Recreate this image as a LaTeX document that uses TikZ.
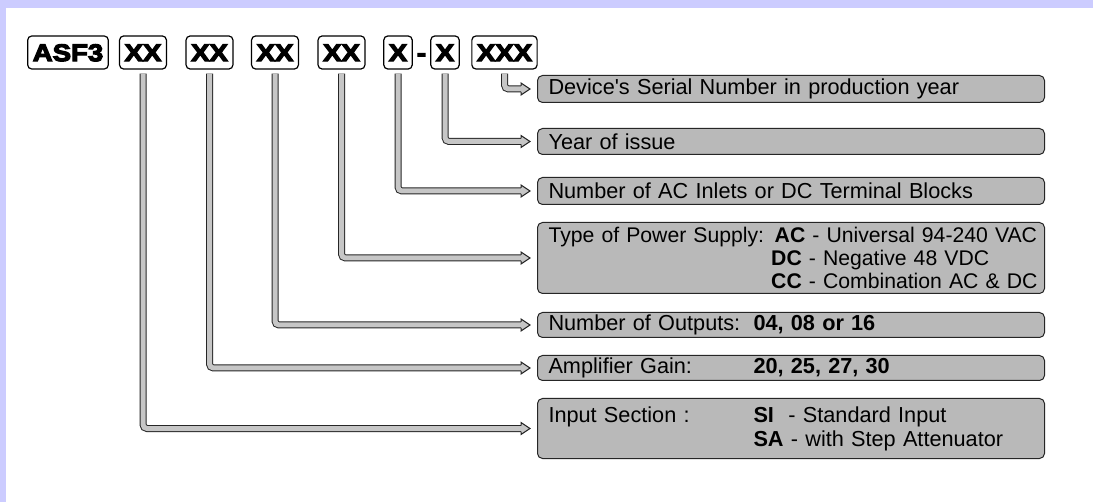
\documentclass[tikz,border=0pt]{standalone}
\usepackage{fontspec}
\setmainfont{Liberation Sans}
\newfontfamily\codefont{Liberation Sans Bold}[FakeBold=5,FakeStretch=1.15]
\usetikzlibrary{calc}
\definecolor{lavender}{RGB}{204,204,255}
\tikzset{
	code/.style={draw=black, line width=0.6pt, rounded corners=2pt, fill=white,
			font=\codefont\fontsize{12}{12}\selectfont, inner xsep=2.5pt, inner ysep=0pt,
			text height=8.6pt, text depth=0pt, minimum height=16.5pt},
	info/.style={draw=gray!30!black, line width=0.5pt, rounded corners=2.5pt, fill=gray!55,
			anchor=north west, text width=242.5pt, inner xsep=5.5pt, inner ysep=0pt, align=left,
			font=\fontsize{10.85}{11.5}\selectfont},
	link/.style={draw=gray!30!black, line width=0.5pt, double=gray!45, double distance=2.5pt,
			rounded corners=2pt, shorten <=2pt, shorten >=7.5pt},
	linkhead/.style={draw=gray!30!black, line width=0.5pt, fill=gray!45, line join=miter}
}
\newcommand{\field}[1]{\makebox[102.5pt][l]{#1}}

\begin{document}
\begin{tikzpicture}[x=0.5pt, y=-0.5pt]
	\useasboundingbox (0,0) rectangle (1093,502);
	\fill[lavender] (0,0) rectangle (1093,502);
	\fill[white] (6,8.5) rectangle (1093,502);

	% part number fields
	\node[code] (asf) at (68,52.5) {ASF3};
	\node[code] (xx1) at (143,52.5) {XX};
	\node[code] (xx2) at (209.5,52.5) {XX};
	\node[code] (xx3) at (275,52.5) {XX};
	\node[code] (xx4) at (341.5,52.5) {XX};
	\node[code] (xa) at (398,52.5) {X};
	\node[code, draw=none, fill=none, inner xsep=0pt] (dash) at (421.5,52.5) {-};
	\node[code] (xb) at (445,52.5) {X};
	\node[code] (xxx) at (504.5,52.5) {XXX};

	% what each field means
	\node[info, minimum height=13.5pt] (serial) at (537,75) {Device\textquotesingle s Serial Number in production year};
	\node[info, minimum height=13pt] (year) at (537,128) {Year of issue};
	\node[info, minimum height=13.5pt] (inlets) at (537,177) {Number of AC Inlets or DC Terminal Blocks};
	\node[info, minimum height=35.5pt, font=\fontsize{10.6}{11.5}\selectfont] (supply) at (537,222) {\mbox{Type of Power Supply: \textbf{AC} - Universal 94-240 VAC}\\
		\mbox{\hphantom{Type of Power Supply:~}\textbf{DC} - Negative 48 VDC}\\
		\mbox{\hphantom{Type of Power Supply:~}\textbf{CC} - Combination AC \& DC}};
	\node[info, minimum height=12.5pt] (outputs) at (537,312) {\field{Number of Outputs:}\textbf{04, 08 or 16}};
	\node[info, minimum height=12.5pt] (gain) at (537,355) {\field{Amplifier Gain:}\textbf{20, 25, 27, 30}};
	\node[info, minimum height=30pt, font=\fontsize{10.85}{12}\selectfont] (input) at (537,398) {\field{Input Section :}\textbf{SI}\ \ - Standard Input\\
		\field{}\textbf{SA} - with Step Attenuator};

	% elbow arrows
	\foreach \src/\dst in {xxx/serial, xb/year, xa/inlets, xx4/supply, xx3/outputs, xx2/gain, xx1/input}{
		\draw[link] (\src.south) |- (\dst.west);
		\filldraw[linkhead] ([shift={(-8pt,1.5pt)}]\dst.west) -- ([shift={(-8pt,3pt)}]\dst.west)
			-- ([xshift=-3.5pt]\dst.west) -- ([shift={(-8pt,-3pt)}]\dst.west) -- ([shift={(-8pt,-1.5pt)}]\dst.west);
	}
\end{tikzpicture}
\end{document}
